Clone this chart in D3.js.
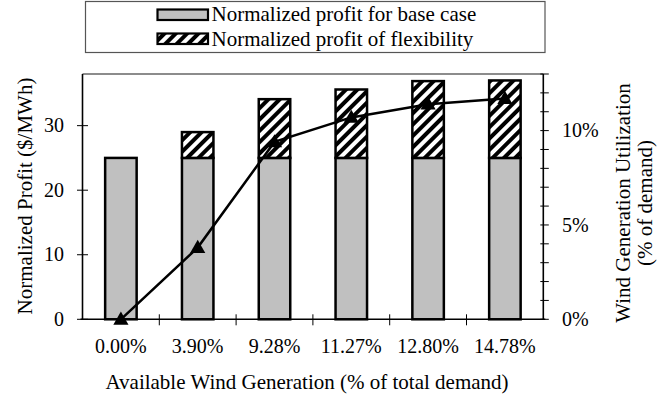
<!DOCTYPE html>
<html>
<head>
<meta charset="utf-8">
<script src="https://cdn.jsdelivr.net/npm/d3@7"></script>
<style>
  html, body { margin: 0; padding: 0; background: #fff; }
  svg { display: block; }
</style>
</head>
<body>
<svg id="chart" width="671" height="402"></svg>
<script>
// Available wind generation levels (% of total demand)
const categories = ["0.00%", "3.90%", "9.28%", "11.27%", "12.80%", "14.78%"];
// Normalized profit for the base case ($/MWh)
const baseProfit = [25, 25, 25, 25, 25, 25];
// Additional normalized profit from flexibility ($/MWh)
const flexProfit = [0, 4.0, 9.1, 10.6, 11.9, 12.0];
// Wind generation utilization (% of demand)
const windUtil = [0, 3.8, 9.4, 10.7, 11.4, 11.7];
// Axis ticks
const profitTicks = [0, 10, 20, 30];
const utilTicks = [0, 1, 2, 3, 4, 5, 6, 7, 8, 9, 10, 11, 12, 13];
const utilLabels = [0, 5, 10];
const legendLabels = ["Normalized profit for base case", "Normalized profit of flexibility"];

const FONT = "'Liberation Serif', 'Times New Roman', Times, 'DejaVu Serif', serif";

const svg = d3.select("#chart")
  .attr("font-family", FONT)
  .style("font-family", FONT);
const plot = { left: 82.5, right: 543.3, top: 74, bottom: 319.3 };

const x = d3.scaleBand()
  .domain(categories)
  .range([plot.left, plot.right])
  .paddingInner(0.59)
  .paddingOuter(0.295);
const y = d3.scaleLinear().domain([0, 38]).range([plot.bottom, plot.top]);
const yr = d3.scaleLinear().domain([0, 13]).range([plot.bottom, plot.top]);

function txt(sel) {
  return sel.attr("font-family", FONT).style("font-family", FONT).attr("fill", "#000");
}

// Diagonal hatch for the flexibility segment
const defs = svg.append("defs");
const pat = defs.append("pattern")
  .attr("id", "hatch")
  .attr("patternUnits", "userSpaceOnUse")
  .attr("width", 8).attr("height", 8)
  .attr("patternTransform", "rotate(45)");
pat.append("rect").attr("width", 8).attr("height", 8).attr("fill", "#fff");
pat.append("line").attr("x1", 4).attr("y1", 0).attr("x2", 4).attr("y2", 8)
  .attr("stroke", "#000").attr("stroke-width", 4);

// Top border of the plot area
svg.append("line")
  .attr("x1", plot.left).attr("x2", plot.right)
  .attr("y1", plot.top).attr("y2", plot.top)
  .attr("stroke", "#8c8c8c").attr("stroke-width", 2);

// Stacked bars
const bars = svg.append("g");
bars.selectAll("rect.base")
  .data(categories)
  .join("rect")
  .attr("class", "base")
  .attr("x", d => x(d))
  .attr("width", x.bandwidth())
  .attr("y", (d, i) => y(baseProfit[i]))
  .attr("height", (d, i) => y(0) - y(baseProfit[i]))
  .attr("fill", "#c0c0c0")
  .attr("stroke", "#000")
  .attr("stroke-width", 2.5);
bars.selectAll("rect.flex")
  .data(categories.filter((d, i) => flexProfit[i] > 0))
  .join("rect")
  .attr("class", "flex")
  .attr("x", d => x(d))
  .attr("width", x.bandwidth())
  .attr("y", d => { const i = categories.indexOf(d); return y(baseProfit[i] + flexProfit[i]); })
  .attr("height", d => { const i = categories.indexOf(d); return y(baseProfit[i]) - y(baseProfit[i] + flexProfit[i]); })
  .attr("fill", "url(#hatch)")
  .attr("stroke", "#000")
  .attr("stroke-width", 2.5);

// Left axis
const gl = svg.append("g");
gl.append("line")
  .attr("x1", plot.left).attr("x2", plot.left)
  .attr("y1", plot.top).attr("y2", plot.bottom)
  .attr("stroke", "#000").attr("stroke-width", 1.6);
gl.selectAll("line.tick")
  .data(profitTicks)
  .join("line")
  .attr("class", "tick")
  .attr("x1", plot.left - 5.5).attr("x2", plot.left + 5.5)
  .attr("y1", d => y(d)).attr("y2", d => y(d))
  .attr("stroke", "#000").attr("stroke-width", 1);
gl.selectAll("text")
  .data(profitTicks)
  .join("text")
  .call(txt)
  .attr("x", 64)
  .attr("y", d => y(d) + 6.7)
  .attr("text-anchor", "end")
  .attr("font-size", 20)
  .text(d => d);

// Right axis
const gr = svg.append("g");
gr.append("line")
  .attr("x1", plot.right).attr("x2", plot.right)
  .attr("y1", plot.top).attr("y2", plot.bottom)
  .attr("stroke", "#000").attr("stroke-width", 1.6);
gr.selectAll("line.tick")
  .data(utilTicks)
  .join("line")
  .attr("class", "tick")
  .attr("x1", plot.right - 3).attr("x2", plot.right + 5.5)
  .attr("y1", d => yr(d)).attr("y2", d => yr(d))
  .attr("stroke", "#000").attr("stroke-width", 1);
gr.selectAll("text")
  .data(utilLabels)
  .join("text")
  .call(txt)
  .attr("x", 562)
  .attr("y", d => yr(d) + 6.7)
  .attr("font-size", 20)
  .text(d => d + "%");

// Bottom axis
const gb = svg.append("g");
gb.append("line")
  .attr("x1", plot.left - 2).attr("x2", plot.right + 2)
  .attr("y1", plot.bottom).attr("y2", plot.bottom)
  .attr("stroke", "#000").attr("stroke-width", 1.6);
gb.selectAll("line.tick")
  .data(categories.slice(1))
  .join("line")
  .attr("class", "tick")
  .attr("x1", d => x(d) - x.step() * x.paddingInner() / 2)
  .attr("x2", d => x(d) - x.step() * x.paddingInner() / 2)
  .attr("y1", plot.bottom - 5).attr("y2", plot.bottom + 6)
  .attr("stroke", "#000").attr("stroke-width", 1);
gb.selectAll("text")
  .data(categories)
  .join("text")
  .call(txt)
  .attr("x", d => x(d) + x.bandwidth() / 2)
  .attr("y", 353)
  .attr("text-anchor", "middle")
  .attr("font-size", 20)
  .text(d => d);

// Utilization line with triangle markers
const line = d3.line()
  .x((d, i) => x(categories[i]) + x.bandwidth() / 2)
  .y(d => yr(d));
svg.append("path")
  .datum(windUtil)
  .attr("d", line)
  .attr("fill", "none")
  .attr("stroke", "#000")
  .attr("stroke-width", 2.5);
svg.selectAll("path.marker")
  .data(windUtil)
  .join("path")
  .attr("class", "marker")
  .attr("d", d3.symbol(d3.symbolTriangle, 100))
  .attr("transform", (d, i) => `translate(${x(categories[i]) + x.bandwidth() / 2},${yr(d) + 1})`)
  .attr("fill", "#000");

// Axis titles
svg.append("text").call(txt)
  .attr("transform", "translate(32,196) rotate(-90)")
  .attr("text-anchor", "middle")
  .attr("font-size", 21)
  .text("Normalized Profit ($/MWh)");
svg.append("text").call(txt)
  .attr("transform", "translate(629.5,203) rotate(-90)")
  .attr("text-anchor", "middle")
  .attr("font-size", 21)
  .text("Wind Generation Utilization");
svg.append("text").call(txt)
  .attr("transform", "translate(652,203) rotate(-90)")
  .attr("text-anchor", "middle")
  .attr("font-size", 21)
  .text("(% of demand)");
svg.append("text").call(txt)
  .attr("x", 307)
  .attr("y", 389)
  .attr("text-anchor", "middle")
  .attr("font-size", 21)
  .text("Available Wind Generation (% of total demand)");

// Legend
const lg = svg.append("g");
lg.append("rect")
  .attr("x", 85.5).attr("y", 1.5)
  .attr("width", 459.5).attr("height", 51)
  .attr("fill", "#fff")
  .attr("stroke", "#555").attr("stroke-width", 1.2);
const legendFill = ["#c0c0c0", "url(#hatch)"];
lg.selectAll("rect.sw")
  .data(legendLabels)
  .join("rect")
  .attr("class", "sw")
  .attr("x", 157.5)
  .attr("y", (d, i) => 9.5 + i * 24)
  .attr("width", 50.5)
  .attr("height", 10.5)
  .attr("fill", (d, i) => legendFill[i])
  .attr("stroke", "#000")
  .attr("stroke-width", 2.2);
lg.selectAll("text")
  .data(legendLabels)
  .join("text")
  .call(txt)
  .attr("x", 211.5)
  .attr("y", (d, i) => 20.7 + i * 25.3)
  .attr("font-size", 21)
  .text(d => d);
</script>
</body>
</html>
